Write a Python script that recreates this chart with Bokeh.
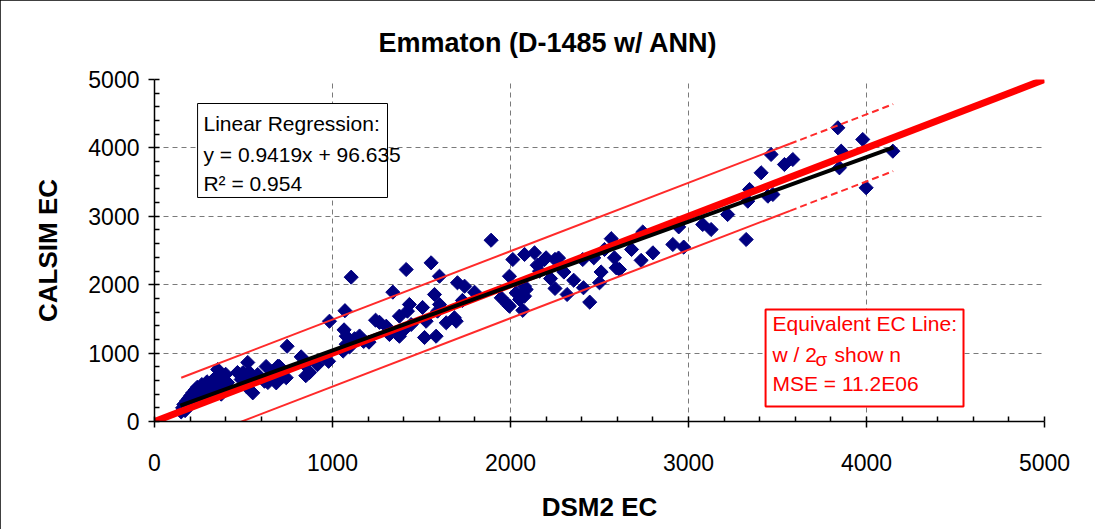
from bokeh.plotting import figure
from bokeh.models import Range1d, BoxAnnotation, Label, SingleIntervalTicker
from bokeh.embed import file_html
from bokeh.resources import INLINE

# ---- data ----
dsm2_ec = [150, 158, 165, 172, 180, 185, 192, 198, 204, 210, 215, 222, 228, 235, 240, 248, 252,
           260, 266, 272, 280, 288, 295, 302, 310, 318, 326, 334, 342, 350, 355, 365, 375, 380,
           390, 400, 410,
           466, 487, 496, 515, 524, 534, 543, 552, 580, 618, 627, 637, 660, 684, 693, 702, 721,
           740, 745, 824, 843, 850, 871, 915, 978, 983,
           1060, 1065, 1070, 1077, 1077, 1096, 1105, 1124, 1152, 1175, 1205, 1242, 1264, 1302,
           1320, 1339, 1365, 1376, 1376, 1404, 1414, 1421, 1432, 1442,
           1506, 1517, 1526, 1554, 1573, 1582, 1590, 1601, 1601, 1639, 1685, 1695, 1702, 1730,
           1742, 1798, 1891, 1948, 1985, 1994, 1994, 2013, 2032, 2051, 2069, 2079, 2079, 2079,
           2088,
           2135, 2150, 2163, 2191, 2200, 2225, 2250, 2250, 2270, 2300, 2318, 2355, 2406, 2410,
           2445, 2468, 2500, 2509, 2528, 2566, 2584, 2594, 2612, 2680, 2734, 2743, 2800, 2912,
           2945, 2973,
           3080, 3127, 3220, 3324, 3333, 3343, 3408, 3446, 3474, 3464, 3539, 3586, 3839, 3858,
           3848, 3979, 3998, 4148]
calsim_ec = [140, 200, 250, 160, 300, 210, 340, 260, 380, 300, 420, 340, 460, 390, 500, 420, 330,
             480, 540, 450, 520, 470, 580, 500, 420, 560, 600, 480, 640, 550, 760, 640, 400, 590,
             500, 690, 570,
             716, 614, 711, 516, 863, 716, 662, 419, 687, 589, 804, 570, 730, 565, 809, 804, 662,
             640, 1100, 945, 833, 670, 716, 830, 880, 1466,
             1030, 1340, 1620, 1130, 1247, 1090, 2110, 1210, 1250, 1170, 1160, 1481, 1450, 1393,
             1272, 1891, 1272, 1540, 1247, 1345, 2222, 1613, 1711, 1418,
             1667, 1228, 1466, 2320, 1857, 1247, 1613, 1711, 2124, 1443, 1516, 1466, 2028, 1770,
             1978, 1890, 2650, 1808, 1711, 2124, 1686, 2368, 1880, 1784, 1625, 2442, 1978, 1832,
             1930,
             2466, 2285, 2198, 2368, 2393, 2090, 2370, 1945, 2390, 2185, 1857, 2065, 2368, 1955,
             1745, 2393, 2028, 2186, 2515, 2673, 2393, 2247, 2222, 2515, 2356, 2771, 2466, 2588,
             2845, 2550,
             2880, 2807, 3026, 2661, 3221, 3392, 3636, 3294, 3319, 3904, 3757, 3830, 4294, 3952,
             3709, 4123, 3417, 3952]

reg_slope = 0.9419
reg_intercept = 96.635
reg_x = [145, 4152]
two_sigma = 490
band_solid_x = [150, 3570]
band_dash_x = [3570, 4150]
equiv_x = [0, 5000]

FONT = "Liberation Sans"

p = figure(frame_width=890, frame_height=342,
           min_border_left=154, min_border_right=51, min_border_top=79, min_border_bottom=108,
           x_range=Range1d(0, 5000), y_range=Range1d(0, 5000),
           output_backend="svg", toolbar_location=None,
           background_fill_color="white", border_fill_color="white",
           title="Emmaton (D-1485 w/ ANN)")
p.outline_line_color = None
p.styles = {"outline": "1px solid black", "outline-offset": "-1px"}

p.title.text_font = FONT
p.title.text_font_size = "27px"
p.title.text_font_style = "bold"
p.title.text_color = "black"
p.title.align = "left"
p.title.offset = 224
p.title.vertical_align = "bottom"
p.title.standoff = 44

for ax in (p.xaxis, p.yaxis):
    ax.ticker = SingleIntervalTicker(interval=1000, num_minor_ticks=5)
    ax.axis_line_color = "black"
    ax.axis_line_width = 1.5
    ax.major_tick_in = 0
    ax.major_tick_out = 6
    ax.major_tick_line_color = "black"
    ax.major_tick_line_width = 1.5
    ax.minor_tick_in = 5
    ax.minor_tick_out = 0
    ax.minor_tick_line_color = "black"
    ax.minor_tick_line_width = 1.5
    ax.major_label_text_font = FONT
    ax.major_label_text_font_size = "23px"
    ax.major_label_text_color = "black"
    ax.axis_label_text_font = FONT
    ax.axis_label_text_font_size = "26px"
    ax.axis_label_text_font_style = "bold"
    ax.axis_label_text_color = "black"

p.xaxis.axis_label = "DSM2 EC"
p.yaxis.axis_label = "CALSIM EC"
p.xaxis.major_label_standoff = 26
p.yaxis.major_label_standoff = 9
p.xaxis.axis_label_standoff = 18
p.yaxis.axis_label_standoff = 22

p.grid.grid_line_color = "#7a7a7a"
p.grid.grid_line_dash = "5 4"
p.grid.grid_line_width = 1

# data points
p.scatter(dsm2_ec, calsim_ec, marker="square", size=10, angle=0.785398,
          fill_color="#000080", line_color="#000080")

# +/- 2 sigma band lines
up_s = [v + two_sigma for v in band_solid_x]
lo_s = [v - two_sigma for v in band_solid_x]
up_d = [v + two_sigma for v in band_dash_x]
lo_d = [v - two_sigma for v in band_dash_x]
p.line(band_solid_x, up_s, line_color="#ff2a2a", line_width=2)
p.line(band_solid_x, lo_s, line_color="#ff2a2a", line_width=2)
p.line(band_dash_x, up_d, line_color="#ff2a2a", line_width=2, line_dash="7 4")
p.line(band_dash_x, lo_d, line_color="#ff2a2a", line_width=2, line_dash="7 4")

# equivalent line
p.line(equiv_x, equiv_x, line_color="#ff0000", line_width=7)

# regression line
p.line(reg_x, [reg_slope * v + reg_intercept for v in reg_x], line_color="black", line_width=4)

# text boxes
p.add_layout(BoxAnnotation(left=242, right=1309, top=4649, bottom=3275,
                           fill_color="white", fill_alpha=1,
                           line_color="black", line_alpha=1, line_width=1))
p.add_layout(BoxAnnotation(left=3433, right=4545, top=1637, bottom=219,
                           fill_color="white", fill_alpha=1,
                           line_color="#ff0000", line_alpha=1, line_width=2))

def lab(x, y, t, size="21px", color="black", align="left", style="normal"):
    p.add_layout(Label(x=x, y=y, text=t, text_font=FONT, text_font_size=size,
                       text_color=color, text_align=align, text_baseline="middle",
                       text_font_style=style))

lab(275, 4364, "Linear Regression:")
lab(275, 3904, "y = 0.9419x + 96.635")
lab(275, 3480, "R² = 0.954")

lab(3472, 1433, "Equivalent EC Line:", color="#ff0000")
lab(3472, 980, "w / 2", color="#ff0000")
lab(3713, 900, "σ", size="19px", color="#ff0000")
lab(3820, 980, "show n", color="#ff0000")
lab(3472, 556, "MSE = 11.2E06", color="#ff0000")

open("out.html", "w").write(file_html(p, INLINE))
